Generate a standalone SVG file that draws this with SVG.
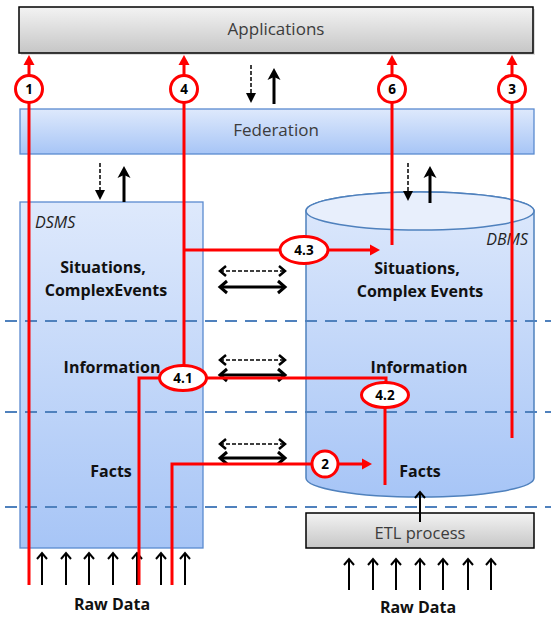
<svg xmlns="http://www.w3.org/2000/svg" width="551" height="619" viewBox="0 0 551 619">
<defs>
<linearGradient id="gGrey" x1="0" y1="0" x2="0" y2="1"><stop offset="0" stop-color="#f3f3f3"/><stop offset="1" stop-color="#c6c6c6"/></linearGradient>
<linearGradient id="gBlue" x1="0" y1="0" x2="0" y2="1"><stop offset="0" stop-color="#dee9fc"/><stop offset="1" stop-color="#a7c5f6"/></linearGradient>
<marker id="redHead" markerUnits="userSpaceOnUse" markerWidth="12" markerHeight="12" refX="2" refY="6" orient="auto" overflow="visible"><path d="M0,0.5 L10,6 L0,11.5 Z" fill="#ff0000"/></marker>
<marker id="tri" markerUnits="userSpaceOnUse" markerWidth="10" markerHeight="10" refX="1" refY="5" orient="auto-start-reverse" overflow="visible"><path d="M0,0 L10,5 L0,10 Z" fill="#000"/></marker>
<marker id="stealth" markerUnits="userSpaceOnUse" markerWidth="12" markerHeight="14" refX="3" refY="6.5" orient="auto-start-reverse" overflow="visible"><path d="M0,0 L12,6.5 L0,13 L3,6.5 Z" fill="#000"/></marker>
<marker id="chevD" markerUnits="userSpaceOnUse" markerWidth="10" markerHeight="12" refX="7" refY="5" orient="auto-start-reverse" overflow="visible"><path d="M1,0 L7,5 L1,10" fill="none" stroke="#000" stroke-width="2.5"/></marker>
<marker id="chevS" markerUnits="userSpaceOnUse" markerWidth="12" markerHeight="14" refX="7" refY="6" orient="auto-start-reverse" overflow="visible"><path d="M0,0 L7,6 L0,12" fill="none" stroke="#000" stroke-width="3"/></marker>
<marker id="chevT" markerUnits="userSpaceOnUse" markerWidth="12" markerHeight="12" refX="6" refY="5" orient="auto" overflow="visible"><path d="M0,0 L6,5 L0,10" fill="none" stroke="#000" stroke-width="2"/></marker>
</defs>
<style>
.t{font-family:"Open Sans","Liberation Sans",sans-serif;text-anchor:middle}
.reg{font-size:17px;fill:#3c3c3c}
.b{font-size:16px;font-weight:bold;fill:#111}
.it{font-family:"Open Sans","Liberation Sans",sans-serif;font-size:16px;font-style:italic;fill:#222}
.num{font-family:"Open Sans","Liberation Sans",sans-serif;font-size:13.5px;font-weight:bold;fill:#000;text-anchor:middle}
.layer{stroke:#4f81bd;stroke-width:2;stroke-dasharray:12 8;fill:none}
.red{stroke:#ff0000;stroke-width:3;fill:none}
.rc{fill:#fff;stroke:#ff0000;stroke-width:3}
.dash{stroke:#000;stroke-width:1.5;stroke-dasharray:4 2;fill:none}
.solid{stroke:#000;stroke-width:3;fill:none}
.thin{stroke:#000;stroke-width:2;fill:none}
</style>
<rect width="551" height="619" fill="#fff"/>

<g id="applications">
<rect x="21" y="9" width="514" height="46" fill="#bbb" opacity="0.5"/>
<rect x="19" y="7" width="514" height="46" fill="url(#gGrey)" stroke="#000" stroke-width="1.5"/>
<text class="t reg" x="276" y="35">Applications</text>
</g>

<g id="federation">
<rect x="20" y="109" width="514" height="45" fill="url(#gBlue)" stroke="#5a8ad0" stroke-width="1.3"/>
<text class="t reg" x="276" y="136">Federation</text>
</g>

<g id="dsms">
<rect x="20" y="202" width="183" height="346" fill="url(#gBlue)" stroke="#5a8ad0" stroke-width="1.3"/>
</g>

<g id="dbms">
<path d="M306,211 V478 A114,19 0 0 0 534,478 V211 A114,19 0 0 0 306,211 Z" fill="url(#gBlue)" stroke="#4f81bd" stroke-width="1.5"/>
<ellipse cx="420" cy="211" rx="114" ry="19" fill="#e8effc" stroke="#4f81bd" stroke-width="1.5"/>
</g>

<g id="etl">
<rect x="306" y="513" width="228" height="35" fill="url(#gGrey)" stroke="#000" stroke-width="1.5"/>
<text class="t reg" x="420" y="539" style="font-size:16.5px">ETL process</text>
</g>

<g id="layers">
<line class="layer" x1="5" y1="321" x2="551" y2="321"/>
<line class="layer" x1="5" y1="412" x2="551" y2="412"/>
<line class="layer" x1="5" y1="507" x2="551" y2="507"/>
</g>

<g id="labels">
<text class="it" x="35" y="228">DSMS</text>
<text class="t b" x="103" y="273">Situations,</text>
<text class="t b" x="106" y="296">ComplexEvents</text>
<text class="t b" x="112" y="373">Information</text>
<text class="t b" x="111" y="477">Facts</text>
<text class="it" x="528" y="245" style="text-anchor:end">DBMS</text>
<text class="t b" x="417" y="274">Situations,</text>
<text class="t b" x="420" y="297">Complex Events</text>
<text class="t b" x="419" y="373">Information</text>
<text class="t b" x="420" y="477">Facts</text>
<text class="t b" x="112" y="610">Raw Data</text>
<text class="t b" x="418" y="613">Raw Data</text>
</g>

<g id="connectors">
<line class="dash" x1="251" y1="65" x2="251" y2="94" marker-end="url(#tri)"/>
<line class="solid" x1="274" y1="104" x2="274" y2="77" marker-end="url(#stealth)"/>
<line class="dash" x1="100" y1="163" x2="100" y2="191" marker-end="url(#tri)"/>
<line class="solid" x1="124" y1="202" x2="124" y2="175" marker-end="url(#stealth)"/>
<line class="dash" x1="408" y1="163" x2="408" y2="192" marker-end="url(#tri)"/>
<line class="solid" x1="430" y1="203" x2="430" y2="175" marker-end="url(#stealth)"/>

<line class="dash" x1="220" y1="271" x2="285" y2="271" marker-start="url(#chevD)" marker-end="url(#chevD)"/>
<line class="solid" x1="220" y1="287" x2="285" y2="287" marker-start="url(#chevS)" marker-end="url(#chevS)"/>
<line class="dash" x1="220" y1="360" x2="285" y2="360" marker-start="url(#chevD)" marker-end="url(#chevD)"/>
<line class="solid" x1="220" y1="375" x2="285" y2="375" marker-start="url(#chevS)" marker-end="url(#chevS)"/>
<line class="dash" x1="220" y1="444" x2="285" y2="444" marker-start="url(#chevD)" marker-end="url(#chevD)"/>
<line class="solid" x1="220" y1="458" x2="285" y2="458" marker-start="url(#chevS)" marker-end="url(#chevS)"/>

<line class="thin" x1="420" y1="522" x2="420" y2="492" marker-end="url(#chevT)"/>
<g>
<line class="thin" x1="42" y1="585" x2="42" y2="553" marker-end="url(#chevT)"/>
<line class="thin" x1="66" y1="585" x2="66" y2="553" marker-end="url(#chevT)"/>
<line class="thin" x1="89" y1="585" x2="89" y2="553" marker-end="url(#chevT)"/>
<line class="thin" x1="113" y1="585" x2="113" y2="553" marker-end="url(#chevT)"/>
<line class="thin" x1="137" y1="585" x2="137" y2="553" marker-end="url(#chevT)"/>
<line class="thin" x1="161" y1="585" x2="161" y2="553" marker-end="url(#chevT)"/>
<line class="thin" x1="185" y1="585" x2="185" y2="553" marker-end="url(#chevT)"/>
<line class="thin" x1="349" y1="590" x2="349" y2="559" marker-end="url(#chevT)"/>
<line class="thin" x1="373" y1="590" x2="373" y2="559" marker-end="url(#chevT)"/>
<line class="thin" x1="396" y1="590" x2="396" y2="559" marker-end="url(#chevT)"/>
<line class="thin" x1="420" y1="590" x2="420" y2="559" marker-end="url(#chevT)"/>
<line class="thin" x1="443" y1="590" x2="443" y2="559" marker-end="url(#chevT)"/>
<line class="thin" x1="468" y1="590" x2="468" y2="559" marker-end="url(#chevT)"/>
<line class="thin" x1="491" y1="590" x2="491" y2="559" marker-end="url(#chevT)"/>
</g>
</g>

<g id="flows">
<path class="red" d="M29,585 V63" marker-end="url(#redHead)"/>
<path class="red" d="M184,366 V63" marker-end="url(#redHead)"/>
<path class="red" d="M184,250 H372" marker-end="url(#redHead)"/>
<path class="red" d="M392,245 V63" marker-end="url(#redHead)"/>
<path class="red" d="M512,438 V63" marker-end="url(#redHead)"/>
<path class="red" d="M139,585 V378 H386 V390"/>
<path class="red" d="M385,400 V485"/>
<path class="red" d="M172,585 V464 H364" marker-end="url(#redHead)"/>

<circle class="rc" cx="29" cy="89" r="13.5"/><text class="num" x="29" y="93.5">1</text>
<circle class="rc" cx="184" cy="89" r="13.5"/><text class="num" x="184" y="93.5">4</text>
<circle class="rc" cx="392" cy="89" r="13.5"/><text class="num" x="392" y="93.5">6</text>
<circle class="rc" cx="512" cy="89" r="13.5"/><text class="num" x="512" y="93.5">3</text>
<circle class="rc" cx="325" cy="464" r="13"/><text class="num" x="325" y="468.5">2</text>
<ellipse class="rc" cx="304" cy="250" rx="24" ry="13.5"/><text class="num" x="304" y="254.5">4.3</text>
<ellipse class="rc" cx="183" cy="378" rx="23.5" ry="12.5"/><text class="num" x="183" y="382.5">4.1</text>
<ellipse class="rc" cx="385" cy="395" rx="23.5" ry="12.5"/><text class="num" x="385" y="399.5">4.2</text>
</g>
</svg>
